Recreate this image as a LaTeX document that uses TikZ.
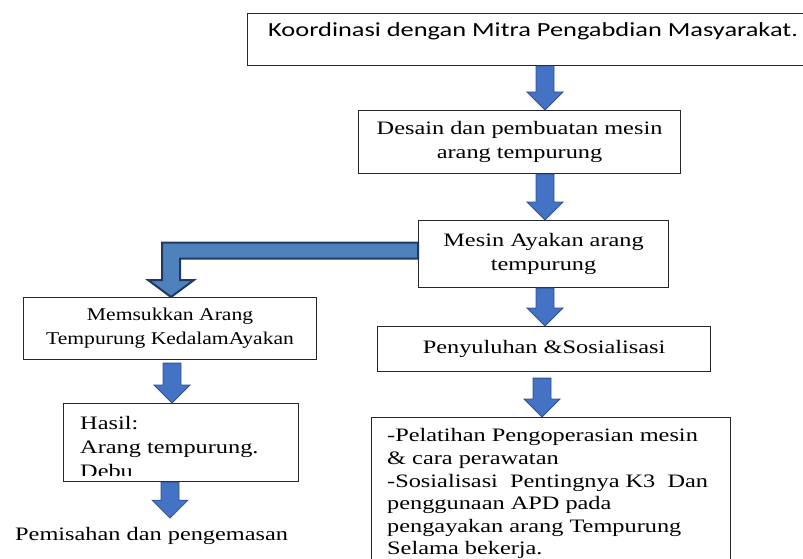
\documentclass[tikz,border=0pt]{standalone}
\usepackage{fontspec}
\setmainfont[FakeStretch=1.28]{Liberation Serif}
\newfontfamily\narrowserif[FakeStretch=1.2]{Liberation Serif}
\newfontfamily\calibrifont[FakeStretch=1.32]{Carlito}
\usetikzlibrary{calc}
\definecolor{blkfill}{HTML}{4472C4}
\definecolor{blkdraw}{HTML}{2F528F}
\definecolor{elbfill}{HTML}{4F81BD}
\definecolor{elbdraw}{HTML}{1F3864}
\newcommand{\blkarrow}[2]{%
  \path[blk] let \p1=(#1), \p2=(#2) in
    (\x1-9pt,\y1) -- (\x1+9pt,\y1) -- (\x1+9pt,\y2+18pt) -- (\x1+18pt,\y2+18pt)
    -- (\x1,\y2) -- (\x1-18pt,\y2+18pt) -- (\x1-9pt,\y2+18pt) -- cycle;}
\begin{document}
\begin{tikzpicture}[x=1pt,y=-1pt,
  box/.style={draw=black!85,line width=1.1pt,fill=white,anchor=north west,inner sep=0pt,align=center,
    font=\fontsize{19}{24}\selectfont},
  lbl/.style={inner sep=0pt,font=\fontsize{19}{22.6}\selectfont},
  blk/.style={fill=blkfill,draw=blkdraw,line width=0.8pt},
  elb/.style={fill=elbfill,draw=elbdraw,line width=2pt}]
\useasboundingbox (0,0) rectangle (803,559);
% boxes
\node[box,minimum width=560pt,minimum height=52pt] (b1) at (247,13) {};
\node[anchor=west,inner sep=0pt,font=\calibrifont\fontsize{20}{24}\selectfont] (t1) at (268,31) {Koordinasi dengan Mitra Pengabdian Masyarakat.};
\node[box,minimum width=322pt,minimum height=63pt] (b2) at (358,110) {Desain dan pembuatan mesin\\arang tempurung};
\node[box,minimum width=250pt,minimum height=67pt] (b3) at (418,220) {Mesin Ayakan arang\\tempurung};
\node[box,minimum width=293pt,minimum height=62pt,font=\narrowserif\fontsize{18}{24}\selectfont] (b4) at (23,297) {Memsukkan Arang\\Tempurung KedalamAyakan};
\node[box,minimum width=235pt,minimum height=78pt] (b5) at (63,403) {};
\begin{scope}
  \clip (63.6,403.6) rectangle (297.4,475.5);
  \node[lbl,align=left,anchor=north west,font=\fontsize{19}{24}\selectfont] (t5) at (80,416) {Hasil:\\Arang tempurung.\\Debu};
\end{scope}
\node[box,minimum width=333pt,minimum height=45pt] (b6) at (377,326) {Penyuluhan \&Sosialisasi};
\node[box,minimum width=359pt,minimum height=160pt] (b7) at (371,417) {};
\node[lbl,align=left,anchor=north west] (t7) at (387,428.5) {-Pelatihan Pengoperasian mesin\\\& cara perawatan\\-Sosialisasi\ \ Pentingnya K3\ \ Dan\\penggunaan APD pada\\pengayakan arang Tempurung\\Selama bekerja.};
\node[lbl,anchor=west] (t8) at (15,536) {Pemisahan dan pengemasan};
% reference columns
\coordinate (x545) at (545,0);
\coordinate (x542) at (542,0);
\coordinate (x172) at (172,0);
\coordinate (x170) at (170,0);
\coordinate (x171) at (171,0);
% block arrows
\blkarrow{x545 |- b1.south}{x545 |- b2.north}
\blkarrow{x545 |- b2.south}{x545 |- b3.north}
\blkarrow{x545 |- b3.south}{x545 |- b6.north}
\blkarrow{$(x542 |- b6.south)+(0,6)$}{x542 |- b7.north}
\blkarrow{$(x172 |- b4.south)+(0,3)$}{x172 |- b5.north}
\blkarrow{x170 |- b5.south}{$(x170 |- t8.north)+(0,-9)$}
% elbow arrow
\path[elb] let \p1=($(b3.west)+(0,-3.5)$), \p2=(x171 |- b4.north) in
  (\x1,\y1+8pt) -- (\x2-9pt,\y1+8pt) -- (\x2-9pt,\y2+17pt) -- (\x2-23pt,\y2+17pt)
  -- (\x2,\y2) -- (\x2+23pt,\y2+17pt) -- (\x2+9pt,\y2+17pt) -- (\x2+9pt,\y1-8pt)
  -- (\x1,\y1-8pt) -- cycle;
\end{tikzpicture}
\end{document}
